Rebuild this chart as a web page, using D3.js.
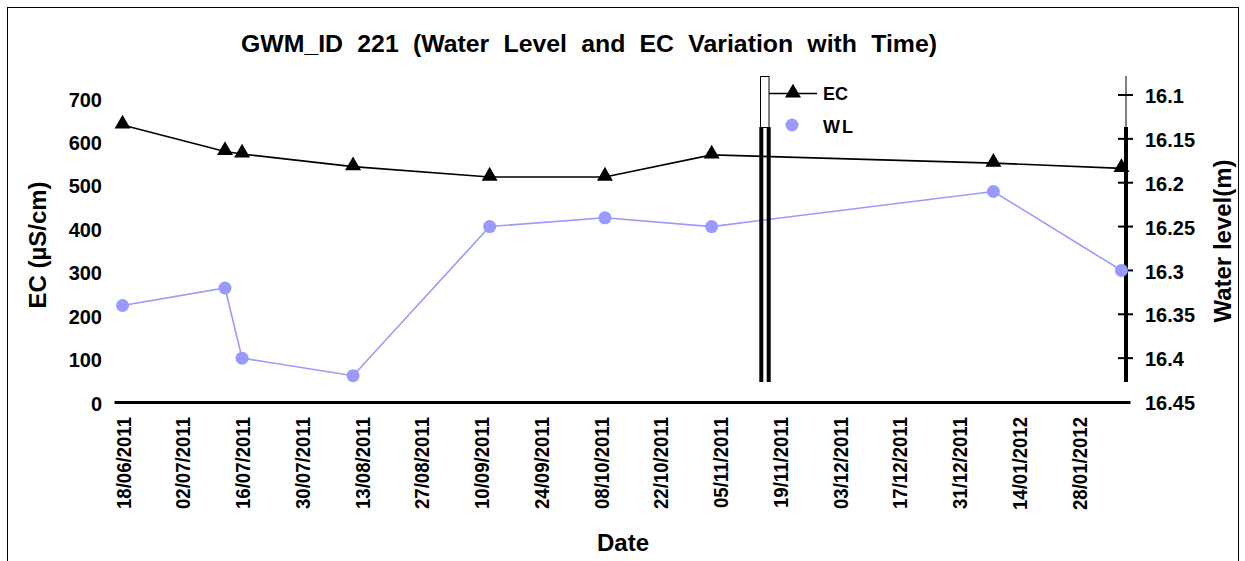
<!DOCTYPE html>
<html><head><meta charset="utf-8">
<script src="https://cdn.jsdelivr.net/npm/d3@7"></script>
<style>
body{margin:0;background:#fff;}
svg text{font-family:"Liberation Sans",Arial,sans-serif;font-weight:bold;fill:#000;}
</style></head>
<body><svg id="c" width="1245" height="561"></svg>
<script>
const dates = ["18/06/2011","12/07/2011","16/07/2011","11/08/2011","12/09/2011","09/10/2011","03/11/2011","08/01/2012","07/02/2012"];
const ecValues = [638,577,571,542,518,518,569,550,538];
const wlValues = [16.34,16.32,16.40,16.42,16.25,16.24,16.25,16.21,16.30];
const ecTicks = [0,100,200,300,400,500,600,700];
const wlTicks = [16.1,16.15,16.2,16.25,16.3,16.35,16.4,16.45];
const xTickStart = "18/06/2011", xTickEnd = "28/01/2012", xTickStepDays = 14;
const xDomain = ["16/06/2011","09/02/2012"];
const title = "GWM_ID  221 (Water Level and EC Variation with Time)";

const parse = d3.timeParse("%d/%m/%Y"), fmt = d3.timeFormat("%d/%m/%Y");
const svg = d3.select("#c");
const X0=114, X1=1130, YB=402;
const x = d3.scaleTime().domain(xDomain.map(parse)).range([X0,X1]);
const yL = d3.scaleLinear().domain([0,700]).range([YB,98]);
const yR = d3.scaleLinear().domain([16.45,16.1]).range([YB,95]);

// outer border
svg.append("rect").attr("x",7.5).attr("y",7.5).attr("width",1231).attr("height",560)
  .attr("fill","none").attr("stroke","#000").attr("stroke-width",1);

// title (slightly stretched, word spacing fitted to reference width)
const SX = 1.08;
const tt = svg.append("text").attr("transform",`translate(589,52) scale(${SX},1)`).attr("text-anchor","middle")
  .style("font-size","23px").text(title);
const w0 = tt.node().getComputedTextLength();
const gaps = title.split(/\s+/).length - 1;
tt.style("word-spacing", Math.max(0,(696/SX - w0)/gaps) + "px");

// x axis
const xTicks = d3.timeDay.range(parse(xTickStart), d3.timeDay.offset(parse(xTickEnd),1)).filter((d,i)=>i%xTickStepDays===0);
const xa = svg.append("g").attr("transform",`translate(0,${YB})`)
  .call(d3.axisBottom(x).tickValues(xTicks).tickFormat(fmt).tickSize(0));
xa.select(".domain").attr("stroke","#000").attr("stroke-width",3);
xa.selectAll("text")
  .attr("text-anchor","end").attr("y",null).attr("dy","0.36em")
  .attr("transform","translate(0,15) scale(1.12,1) rotate(-90)")
  .style("font-size","18.6px");

// left axis (labels only)
const la = svg.append("g").attr("transform",`translate(102,0)`)
  .call(d3.axisLeft(yL).tickValues(ecTicks).tickFormat(d3.format("d")).tickSize(0).tickPadding(0));
la.select(".domain").remove();
la.selectAll("text").style("font-size","20px").attr("dy","0.4em");

// right axis
const RX = 1126;
svg.append("line").attr("x1",RX).attr("x2",RX).attr("y1",76).attr("y2",127).attr("stroke","#000").attr("stroke-width",1);
svg.append("line").attr("x1",RX).attr("x2",RX).attr("y1",127).attr("y2",382).attr("stroke","#000").attr("stroke-width",4);
const ra = svg.append("g").attr("transform",`translate(${RX},0)`)
  .call(d3.axisRight(yR).tickValues(wlTicks).tickFormat(d=>d3.format("")(+d.toFixed(2))).tickSize(0).tickPadding(19));
ra.select(".domain").remove();
ra.selectAll("text").style("font-size","20px").attr("dy","0.38em");
svg.append("g").selectAll("line").data(wlTicks.slice(0,-1)).join("line")
  .attr("x1",RX-8).attr("x2",RX+7).attr("y1",d=>yR(d)).attr("y2",d=>yR(d))
  .attr("stroke","#000").attr("stroke-width",2);

// axis titles
svg.append("text").attr("transform","translate(46,245) rotate(-90)").attr("text-anchor","middle")
  .style("font-size","24px").text("EC (µS/cm)");
svg.append("text").attr("transform","translate(1231,241) rotate(-90)").attr("text-anchor","middle")
  .style("font-size","24px").text("Water level(m)");
svg.append("text").attr("x",623).attr("y",551).attr("text-anchor","middle")
  .style("font-size","24px").text("Date");

// series
const wlColor = "#9999FF";
const ecData = dates.map((d,i)=>({d:parse(d),v:ecValues[i]}));
const wlData = dates.map((d,i)=>({d:parse(d),v:wlValues[i]}));

svg.append("path").datum(wlData).attr("fill","none").attr("stroke",wlColor).attr("stroke-width",1.6)
  .attr("d",d3.line().x(d=>x(d.d)).y(d=>yR(d.v)));
svg.append("g").selectAll("circle").data(wlData).join("circle")
  .attr("cx",d=>x(d.d)).attr("cy",d=>yR(d.v)).attr("r",6.5).attr("fill",wlColor);

// decorative legend frame artifacts
const LX = 760;
svg.append("rect").attr("x",LX+0.5).attr("y",76.5).attr("width",8.5).attr("height",51).attr("fill","none").attr("stroke","#000").attr("stroke-width",1);
svg.append("rect").attr("x",LX-0.7).attr("y",127).attr("width",4).attr("height",255).attr("fill","#000");
svg.append("rect").attr("x",LX+6.7).attr("y",127).attr("width",4).attr("height",255).attr("fill","#000");

svg.append("path").datum(ecData).attr("fill","none").attr("stroke","#000").attr("stroke-width",1.6)
  .attr("d",d3.line().x(d=>x(d.d)).y(d=>yL(d.v)));
const tri = d3.symbol().type(d3.symbolTriangle).size(110);
svg.append("g").selectAll("path").data(ecData).join("path")
  .attr("d",tri).attr("transform",d=>`translate(${x(d.d)},${yL(d.v)-1})`).attr("fill","#000");

// legend
svg.append("line").attr("x1",769).attr("x2",817).attr("y1",93.5).attr("y2",93.5).attr("stroke","#000").attr("stroke-width",1.5);
svg.append("path").attr("d",tri).attr("transform","translate(793,93)").attr("fill","#000");
svg.append("text").attr("x",823).attr("y",100).style("font-size","18px").text("EC");
svg.append("circle").attr("cx",792).attr("cy",125).attr("r",6.5).attr("fill",wlColor);
svg.append("text").attr("x",823).attr("y",133).style("font-size","18px").style("letter-spacing","2px").text("WL");
</script></body></html>
